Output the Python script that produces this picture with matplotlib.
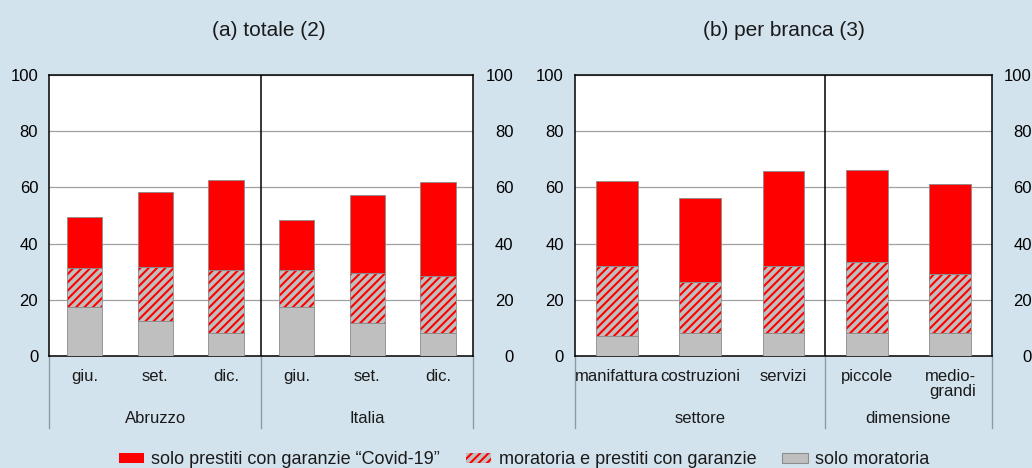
import numpy as np
import matplotlib.pyplot as plt
from matplotlib.patches import Patch
from matplotlib.lines import Line2D

plt.rcParams['font.family'] = ['Liberation Sans', 'DejaVu Sans']
plt.rcParams['hatch.linewidth'] = 1.5
plt.rcParams['text.color'] = '#1a1a1a'

##---------- data (percent)
# (a) totale
a_cats = ['giu.', 'set.', 'dic.', 'giu.', 'set.', 'dic.']
a_groups = ['Abruzzo', 'Italia']
a_group_n = [3, 3]
a_solo_mor = [17.3, 12.3, 8.1, 17.4, 11.6, 8.1]
a_mor_gar = [14.1, 19.5, 22.6, 13.2, 17.8, 20.5]
a_covid = [18.1, 26.7, 32.0, 17.8, 27.8, 33.2]

# (b) per branca
b_cats = ['manifattura', 'costruzioni', 'servizi', 'piccole', 'medio-\ngrandi']
b_groups = ['settore', 'dimensione']
b_group_n = [3, 2]
b_solo_mor = [7.0, 8.3, 8.3, 8.3, 8.1]
b_mor_gar = [25.1, 18.2, 23.8, 25.3, 21.2]
b_covid = [30.3, 29.6, 33.6, 32.6, 31.8]

legend_labels = ['solo prestiti con garanzie \u201cCovid-19\u201d',
                 'moratoria e prestiti con garanzie', 'solo moratoria']
yticks = [0, 20, 40, 60, 80, 100]
##----------

bg = '#d3e3ed'
red = '#ff0000'
grey = '#bfbfbf'
edge = '#8c8c8c'
sep = '#8d9ba5'
hatch = '////'


def panel(ax, cats, groups, group_n, solo, mg, cov):
    x = np.arange(len(cats))
    solo = np.array(solo)
    mg = np.array(mg)
    cov = np.array(cov)
    w = 0.5
    ax.set_facecolor('white')
    ax.bar(x, solo, w, color=grey, edgecolor=edge, lw=0.6, zorder=3)
    ax.bar(x, mg, w, bottom=solo, color=grey, edgecolor=red, hatch=hatch, lw=0, zorder=3)
    ax.bar(x, mg, w, bottom=solo, fill=False, edgecolor=edge, lw=0.6, zorder=4)
    ax.bar(x, cov, w, bottom=solo + mg, color=red, edgecolor=edge, lw=0.6, zorder=3)

    ax.set_xlim(-0.5, len(cats) - 0.5)
    ax.set_ylim(0, 100)
    ax.set_yticks(yticks)
    ax.set_xticks([])
    ax.tick_params(axis='y', length=0, labelsize=12, pad=8)
    ax.yaxis.grid(True, color='#a0a0a0', lw=0.9, zorder=0)
    ax.set_axisbelow(True)
    for s in ax.spines.values():
        s.set_linewidth(1.1)
        s.set_color('black')

    ax2 = ax.twinx()
    ax2.set_ylim(0, 100)
    ax2.set_yticks(yticks)
    ax2.tick_params(axis='y', length=0, labelsize=12, pad=29)
    for t in ax2.get_yticklabels():
        t.set_horizontalalignment('right')
    for s in ax2.spines.values():
        s.set_visible(False)

    tr = ax.get_xaxis_transform()
    for i, c in enumerate(cats):
        ax.text(x[i], -0.048, c, transform=tr, ha='center', va='top',
                fontsize=12, multialignment='right', linespacing=0.95)
    bounds = np.concatenate([[0], np.cumsum(group_n)]) - 0.5
    for b in bounds:
        ax.add_line(Line2D([b, b], [0, -0.256], transform=tr, color=sep,
                           lw=1.0, clip_on=False))
    for b in bounds[1:-1]:
        ax.axvline(b, color='black', lw=1.1, zorder=5)
    for g, lo, hi in zip(groups, bounds[:-1], bounds[1:]):
        ax.text((lo + hi) / 2, -0.222, g, transform=tr, ha='center', va='center',
                fontsize=12)


fig = plt.figure(figsize=(10.32, 4.68), dpi=100, facecolor=bg)
ax_a = fig.add_axes([49.3 / 1032, 112 / 468, 424 / 1032, 281 / 468])
ax_b = fig.add_axes([575 / 1032, 112 / 468, 416.7 / 1032, 281 / 468])

panel(ax_a, a_cats, a_groups, a_group_n, a_solo_mor, a_mor_gar, a_covid)
panel(ax_b, b_cats, b_groups, b_group_n, b_solo_mor, b_mor_gar, b_covid)

fig.text(269 / 1032, 1 - 30 / 468, '(a) totale (2)', ha='center', va='center', fontsize=15)
fig.text(784 / 1032, 1 - 30 / 468, '(b) per branca (3)', ha='center', va='center', fontsize=15)

handles = [Patch(facecolor=red, edgecolor=red, lw=0),
           Patch(facecolor=grey, edgecolor=red, hatch=hatch, lw=0),
           Patch(facecolor=grey, edgecolor=edge, lw=0.8)]
fig.legend(handles, legend_labels, loc='center', bbox_to_anchor=(524 / 1032, 1 - 460 / 468),
           ncol=3, frameon=False, fontsize=13, handlelength=1.4, handleheight=0.45,
           handletextpad=0.4, columnspacing=1.45, borderpad=0)

fig.savefig('out.png', dpi=100, facecolor=bg)
